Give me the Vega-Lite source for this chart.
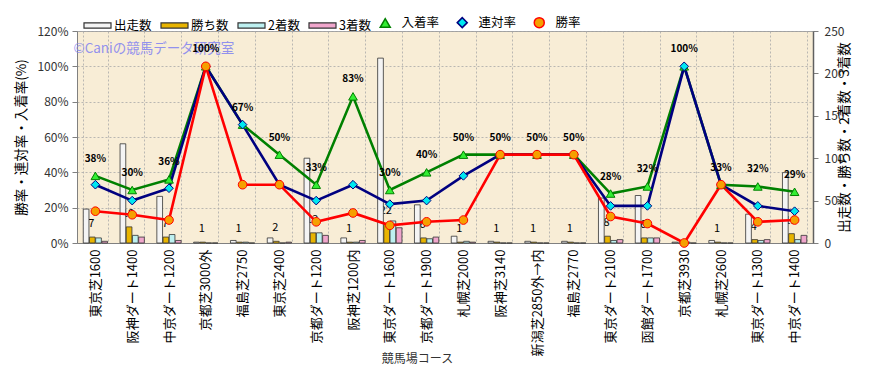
{
  "$schema": "https://vega.github.io/schema/vega-lite/v6.json",
  "width": 736,
  "height": 212,
  "autosize": {"type": "none"},
  "padding": {"left": 77, "top": 31, "right": 68, "bottom": 135},
  "background": "#ffffff",
  "config": {
    "font": "Noto Sans CJK JP",
    "view": {"fill": "#f8edd6", "stroke": "#a0a0a0", "strokeWidth": 1},
    "legend": {"labelFont": "Noto Sans CJK JP", "labelFontSize": 12.5, "labelColor": "#000000"},
    "axis": {
      "labelFont": "Noto Sans CJK JP",
      "titleFont": "Noto Sans CJK JP",
      "labelColor": "#000000",
      "titleColor": "#000000",
      "titleFontWeight": "normal",
      "labelFontSize": 12,
      "titleFontSize": 13,
      "labelOverlap": false,
      "gridColor": "#a8a8a8",
      "gridDash": [2, 2],
      "gridWidth": 0.8,
      "domainColor": "#808080",
      "tickColor": "#808080"
    }
  },
  "data": {
    "values": [
      {"コース": "東京芝1600", "出走数": 40, "勝ち数": 7, "2着数": 6, "3着数": 2, "勝率": 0.18, "連対率": 0.33, "入着率": 0.38},
      {"コース": "阪神ダート1400", "出走数": 117, "勝ち数": 19, "2着数": 9, "3着数": 7, "勝率": 0.16, "連対率": 0.24, "入着率": 0.30},
      {"コース": "中京ダート1200", "出走数": 55, "勝ち数": 7, "2着数": 10, "3着数": 3, "勝率": 0.13, "連対率": 0.31, "入着率": 0.36},
      {"コース": "京都芝3000外", "出走数": 1, "勝ち数": 1, "2着数": 0, "3着数": 0, "勝率": 1.0, "連対率": 1.0, "入着率": 1.0},
      {"コース": "福島芝2750", "出走数": 3, "勝ち数": 1, "2着数": 1, "3着数": 0, "勝率": 0.33, "連対率": 0.67, "入着率": 0.67},
      {"コース": "東京芝2400", "出走数": 6, "勝ち数": 2, "2着数": 0, "3着数": 1, "勝率": 0.33, "連対率": 0.33, "入着率": 0.50},
      {"コース": "京都ダート1200", "出走数": 100, "勝ち数": 12, "2着数": 12, "3着数": 9, "勝率": 0.12, "連対率": 0.24, "入着率": 0.33},
      {"コース": "阪神芝1200内", "出走数": 6, "勝ち数": 1, "2着数": 1, "3着数": 3, "勝率": 0.17, "連対率": 0.33, "入着率": 0.83},
      {"コース": "東京ダート1600", "出走数": 218, "勝ち数": 22, "2着数": 26, "3着数": 18, "勝率": 0.10, "連対率": 0.22, "入着率": 0.30},
      {"コース": "京都ダート1900", "出走数": 45, "勝ち数": 6, "2着数": 5, "3着数": 7, "勝率": 0.12, "連対率": 0.24, "入着率": 0.40},
      {"コース": "札幌芝2000", "出走数": 8, "勝ち数": 1, "2着数": 2, "3着数": 1, "勝率": 0.13, "連対率": 0.38, "入着率": 0.50},
      {"コース": "阪神芝3140", "出走数": 2, "勝ち数": 1, "2着数": 0, "3着数": 0, "勝率": 0.50, "連対率": 0.50, "入着率": 0.50},
      {"コース": "新潟芝2850外→内", "出走数": 2, "勝ち数": 1, "2着数": 0, "3着数": 0, "勝率": 0.50, "連対率": 0.50, "入着率": 0.50},
      {"コース": "福島芝2770", "出走数": 2, "勝ち数": 1, "2着数": 0, "3着数": 0, "勝率": 0.50, "連対率": 0.50, "入着率": 0.50},
      {"コース": "東京ダート2100", "出走数": 53, "勝ち数": 8, "2着数": 3, "3着数": 4, "勝率": 0.15, "連対率": 0.21, "入着率": 0.28},
      {"コース": "函館ダート1700", "出走数": 56, "勝ち数": 6, "2着数": 6, "3着数": 6, "勝率": 0.11, "連対率": 0.21, "入着率": 0.32},
      {"コース": "京都芝3930", "出走数": 1, "勝ち数": 0, "2着数": 1, "3着数": 0, "勝率": 0.0, "連対率": 1.0, "入着率": 1.0},
      {"コース": "札幌芝2600", "出走数": 3, "勝ち数": 1, "2着数": 0, "3着数": 0, "勝率": 0.33, "連対率": 0.33, "入着率": 0.33},
      {"コース": "東京ダート1300", "出走数": 34, "勝ち数": 4, "2着数": 3, "3着数": 4, "勝率": 0.12, "連対率": 0.21, "入着率": 0.32},
      {"コース": "中京ダート1400", "出走数": 83, "勝ち数": 11, "2着数": 4, "3着数": 9, "勝率": 0.13, "連対率": 0.18, "入着率": 0.29}
    ]
  },
  "layer": [
    {
      "layer": [
        {
          "mark": {"type": "text", "dy": -13, "dx": -4, "fontSize": 11, "color": "#000000", "baseline": "middle"},
          "encoding": {
            "x": {"field": "コース", "type": "nominal", "sort": null},
            "y": {"field": "勝ち数", "type": "quantitative", "scale": {"domain": [0, 250]}, "axis": {"orient": "right", "title": "出走数・勝ち数・2着数・3着数", "values": [0, 50, 100, 150, 200, 250], "grid": false, "titleAngle": 270, "labelColor": "#333333", "tickSize": 5, "labelPadding": 6, "titlePadding": 8, "titleFontSize": 13.5, "domainColor": "#606060", "domainWidth": 1.5}},
            "text": {"condition": {"test": "datum['勝ち数'] > 0", "field": "勝ち数", "type": "quantitative"}, "value": ""}
          }
        },
        {
          "transform": [{"fold": ["出走数", "勝ち数", "2着数", "3着数"], "as": ["項目", "件数"]}],
          "mark": {"type": "bar", "stroke": "#333333", "strokeWidth": 0.8},
          "encoding": {
            "x": {
              "field": "コース", "type": "nominal", "sort": null,
              "scale": {"paddingInner": 0.34, "paddingOuter": 0.17},
              "axis": {"title": "競馬場コース", "labelAngle": -90, "labelPadding": 6, "labelFontSize": 13, "ticks": false, "tickBand": "extent", "grid": true, "titleFontSize": 12, "titleColor": "#333333", "titleBaseline": "middle", "titleY": 115, "titleX": 340, "domainColor": "#808080"}
            },
            "xOffset": {"field": "項目", "type": "nominal", "scale": {"domain": ["出走数", "勝ち数", "2着数", "3着数"], "paddingInner": 0.08}},
            "y": {
              "field": "件数", "type": "quantitative",
              "scale": {"domain": [0, 250]},
              "axis": {"orient": "right", "title": "出走数・勝ち数・2着数・3着数", "values": [0, 50, 100, 150, 200, 250], "grid": false, "titleAngle": 270, "labelColor": "#333333", "tickSize": 5, "labelPadding": 6, "titlePadding": 8, "titleFontSize": 13.5, "domainColor": "#606060", "domainWidth": 1.5}
            },
            "color": {
              "field": "項目", "type": "nominal",
              "scale": {"domain": ["出走数", "勝ち数", "2着数", "3着数"], "range": ["#f4f4f4", "#e8b400", "#bdf0f0", "#f0a6cc"]},
              "legend": {
                "orient": "none", "legendX": 6, "legendY": -20, "direction": "horizontal", "title": null,
                "symbolType": "M-1,-0.19H1V0.19H-1Z", "symbolSize": 729, "symbolStrokeColor": "#333333", "symbolStrokeWidth": 1.2,
                "columnPadding": 6, "labelOffset": 2
              }
            }
          }
        }
      ]
    },
    {
      "layer": [
        {
          "data": {"values": [{"t": "©Caniの競馬データ研究室"}]},
          "mark": {"type": "text", "align": "left", "baseline": "middle", "dx": -22, "fontSize": 13.5, "color": "#8888f0", "opacity": 0.9},
          "encoding": {
            "x": {"datum": "東京芝1600", "type": "nominal"},
            "y": {"datum": 1.1, "type": "quantitative", "scale": {"domain": [0, 1.2]}, "axis": {"orient": "left", "title": "勝率・連対率・入着率(%)", "format": ".0%", "values": [0, 0.2, 0.4, 0.6, 0.8, 1.0, 1.2], "grid": true, "labelColor": "#333333", "tickSize": 5, "labelPadding": 4, "titlePadding": 8, "titleFontSize": 13.5}},
            "text": {"field": "t", "type": "nominal"}
          }
        },
        {
          "transform": [{"fold": ["入着率", "連対率", "勝率"], "as": ["系列", "率"]}],
          "mark": {"type": "line", "strokeWidth": 2.6},
          "encoding": {
            "x": {"field": "コース", "type": "nominal", "sort": null},
            "y": {"field": "率", "type": "quantitative", "scale": {"domain": [0, 1.2]}, "axis": {"orient": "left", "title": "勝率・連対率・入着率(%)", "format": ".0%", "values": [0, 0.2, 0.4, 0.6, 0.8, 1.0, 1.2], "grid": true, "labelColor": "#333333", "tickSize": 5, "labelPadding": 4, "titlePadding": 8, "titleFontSize": 13.5}},
            "stroke": {
              "field": "系列", "type": "nominal",
              "scale": {"domain": ["入着率", "連対率", "勝率"], "range": ["#008000", "#000080", "#ff0000"]},
              "legend": {"orient": "none", "legendX": 302, "legendY": -15, "direction": "horizontal", "title": null, "symbolSize": 100, "symbolStrokeWidth": 1.5, "columnPadding": 14, "labelOffset": 10}
            }
          }
        },
        {
          "transform": [{"fold": ["入着率", "連対率", "勝率"], "as": ["系列", "率"]}],
          "mark": {"type": "point", "filled": true, "size": 75, "strokeWidth": 1, "opacity": 1},
          "encoding": {
            "x": {"field": "コース", "type": "nominal", "sort": null},
            "y": {"field": "率", "type": "quantitative", "scale": {"domain": [0, 1.2]}, "axis": {"orient": "left", "title": "勝率・連対率・入着率(%)", "format": ".0%", "values": [0, 0.2, 0.4, 0.6, 0.8, 1.0, 1.2], "grid": true, "labelColor": "#333333", "tickSize": 5, "labelPadding": 4, "titlePadding": 8, "titleFontSize": 13.5}},
            "shape": {"field": "系列", "type": "nominal", "scale": {"domain": ["入着率", "連対率", "勝率"], "range": ["triangle-up", "diamond", "circle"]},
              "legend": {"orient": "none", "legendX": 302, "legendY": -15, "direction": "horizontal", "title": null, "symbolSize": 100, "symbolStrokeWidth": 1.5, "columnPadding": 14, "labelOffset": 10}},
            "fill": {"field": "系列", "type": "nominal", "scale": {"domain": ["入着率", "連対率", "勝率"], "range": ["#33ee33", "#00e8f0", "#f5a000"]},
              "legend": {"orient": "none", "legendX": 302, "legendY": -15, "direction": "horizontal", "title": null, "symbolSize": 100, "symbolStrokeWidth": 1.5, "columnPadding": 14, "labelOffset": 10}},
            "stroke": {"field": "系列", "type": "nominal", "scale": {"domain": ["入着率", "連対率", "勝率"], "range": ["#008000", "#000080", "#ff0000"]},
              "legend": {"orient": "none", "legendX": 302, "legendY": -15, "direction": "horizontal", "title": null, "symbolSize": 100, "symbolStrokeWidth": 1.5, "columnPadding": 14, "labelOffset": 10}}
          }
        },
        {
          "mark": {"type": "text", "dy": -17, "fontSize": 10, "fontWeight": "bold", "color": "#000000", "baseline": "middle"},
          "encoding": {
            "x": {"field": "コース", "type": "nominal", "sort": null},
            "y": {"field": "入着率", "type": "quantitative", "scale": {"domain": [0, 1.2]}, "axis": {"orient": "left", "title": "勝率・連対率・入着率(%)", "format": ".0%", "values": [0, 0.2, 0.4, 0.6, 0.8, 1.0, 1.2], "grid": true, "labelColor": "#333333", "tickSize": 5, "labelPadding": 4, "titlePadding": 8, "titleFontSize": 13.5}},
            "text": {"field": "入着率", "type": "quantitative", "format": ".0%"}
          }
        }
      ]
    }
  ],
  "resolve": {"scale": {"y": "independent"}}
}
